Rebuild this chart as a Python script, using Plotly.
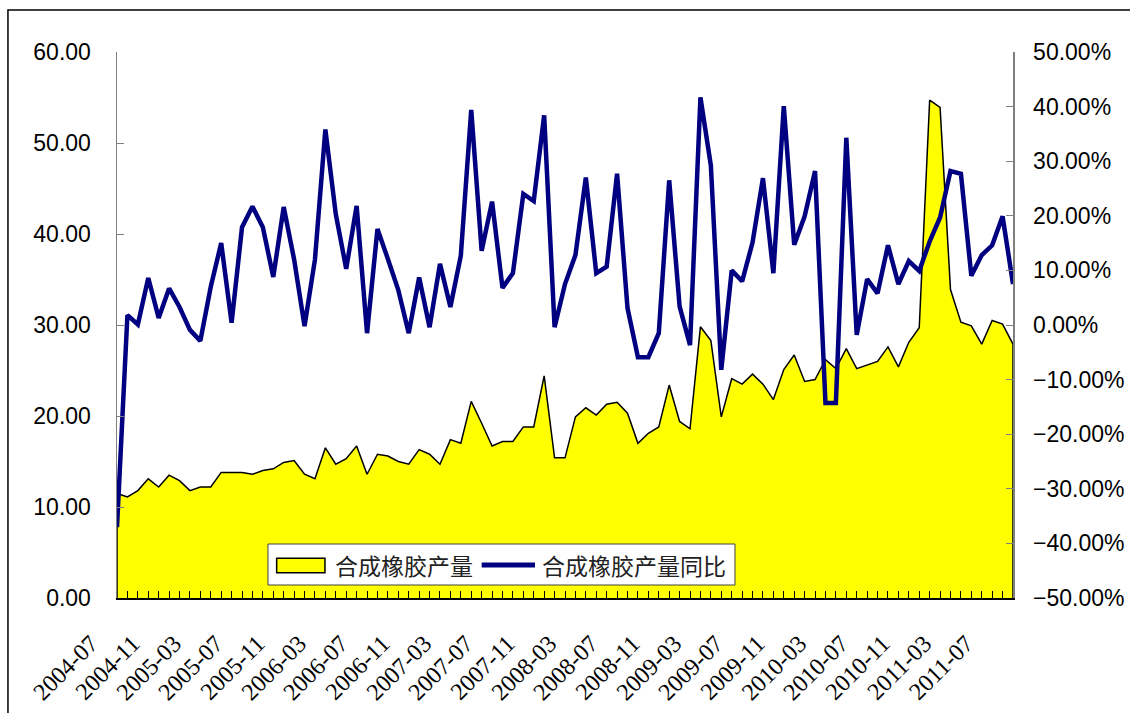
import plotly.graph_objects as go

# Monthly categories 2004-07 .. 2011-09
months = [f"{y}-{m:02d}" for y in range(2004, 2012) for m in range(1, 13)]
months = months[months.index("2004-07"):months.index("2011-09") + 1]

# 合成橡胶产量 (万吨)
production = [
    11.5, 11.1, 11.8, 13.1, 12.2, 13.5, 12.9, 11.8, 12.2, 12.2, 13.8, 13.8,
    13.8, 13.6, 14.0, 14.2, 14.9, 15.1, 13.6, 13.1, 16.5, 14.7, 15.3, 16.7,
    13.6, 15.8, 15.6, 15.0, 14.7, 16.3, 15.8, 14.7, 17.4, 17.0, 21.6, 19.2,
    16.7, 17.2, 17.2, 18.8, 18.8, 24.4, 15.4, 15.4, 19.9, 20.9, 20.1, 21.3,
    21.5, 20.3, 17.0, 18.1, 18.8, 23.4, 19.4, 18.6, 29.8, 28.3, 19.9, 24.1,
    23.5, 24.6, 23.5, 21.8, 25.1, 26.7, 23.8, 24.0, 26.2, 25.2, 27.4, 25.2,
    25.6, 26.0, 27.6, 25.4, 28.1, 29.7, 54.7, 53.9, 33.9, 30.3, 29.9, 27.9,
    30.5, 30.1, 27.9,
]

# 合成橡胶产量同比 (%)
yoy_pct = [
    -37.0, 1.8, 0.1, 8.6, 1.3, 6.7, 3.3, -0.9, -2.9, 7.0, 15.0, 0.4,
    17.9, 21.7, 17.9, 8.8, 21.6, 12.0, -0.2, 12.0, 35.8, 20.3, 10.3, 21.8,
    -1.5, 17.6, 12.1, 6.4, -1.5, 8.7, -0.4, 11.2, 3.3, 12.7, 39.4, 13.6,
    22.6, 6.8, 9.5, 24.0, 22.7, 38.4, -0.4, 7.5, 12.8, 27.0, 9.5, 10.7,
    27.7, 3.1, -5.9, -5.9, -1.5, 26.5, 3.4, -3.7, 41.7, 29.2, -8.2, 10.0,
    8.0, 15.1, 26.9, 9.5, 40.1, 14.7, 19.9, 28.2, -14.3, -14.3, 34.3, -1.8,
    8.4, 5.8, 14.6, 7.5, 11.7, 9.9, 15.3, 19.7, 28.2, 27.7, 9.0, 12.8,
    14.6, 19.9, 7.5,
]

series_names = ["合成橡胶产量", "合成橡胶产量同比"]

AREA_FILL = "#FFFF00"
LINE_COLOR = "#000080"

idx = list(range(len(months)))
label_idx = idx[::4]
label_txt = [months[i] for i in label_idx]

# closed polygon so the area has a border on all sides (like Excel)
poly_x = [idx[0]] + idx + [idx[-1]]
poly_y = [0] + production + [0]

fig = go.Figure()
fig.add_trace(go.Scatter(
    x=poly_x, y=poly_y, name=series_names[0], mode="lines",
    fill="toself", fillcolor=AREA_FILL,
    line=dict(color="black", width=1.5),
    hoverinfo="skip", showlegend=False,
))
fig.add_trace(go.Scatter(
    x=idx, y=[v / 100 for v in yoy_pct], name=series_names[1], mode="lines",
    yaxis="y2", line=dict(color=LINE_COLOR, width=4.5),
    hoverinfo="skip", showlegend=False,
))

axis_font = dict(family="Liberation Sans, Arial", size=23, color="black")
legend_font = dict(family="Noto Sans CJK SC", size=23, color="#222222")

# custom legend (Excel style) in paper coordinates
shapes = [
    dict(type="rect", xref="paper", yref="paper",
         x0=-0.1217, x1=1.3, y0=-0.4, y1=1.0769,
         line=dict(color="black", width=1.5), fillcolor="rgba(0,0,0,0)",
         layer="above"),
    dict(type="rect", xref="paper", yref="paper",
         x0=0.1685, x1=0.6897, y0=0.0238, y1=0.0989,
         line=dict(color="#404040", width=1), fillcolor="white", layer="above"),
    dict(type="rect", xref="paper", yref="paper",
         x0=0.1782, x1=0.2321, y0=0.0463, y1=0.0727,
         line=dict(color="black", width=1.5), fillcolor=AREA_FILL, layer="above"),
    dict(type="line", xref="paper", yref="paper",
         x0=0.4070, x1=0.4665, y0=0.0604, y1=0.0604,
         line=dict(color=LINE_COLOR, width=5), layer="above"),
]
annotations = [
    dict(text=series_names[0], xref="paper", yref="paper", x=0.2411, y=0.0604,
         xanchor="left", yanchor="middle", showarrow=False, font=legend_font),
    dict(text=series_names[1], xref="paper", yref="paper", x=0.4721, y=0.0604,
         xanchor="left", yanchor="middle", showarrow=False, font=legend_font),
]

fig.update_layout(
    width=1130, height=713,
    margin=dict(l=117, r=117, t=52, b=115),
    paper_bgcolor="white", plot_bgcolor="white",
    showlegend=False,
    xaxis=dict(
        range=[0, len(months) - 1],
        tickmode="array", tickvals=label_idx, ticktext=label_txt,
        tickangle=-45,
        tickfont=dict(family="Liberation Serif, Times New Roman", size=24, color="black"),
        ticks="inside", ticklen=7, tickcolor="black", tickwidth=1,
        minor=dict(ticks="inside", tickmode="linear", tick0=0, dtick=1,
                   ticklen=7, tickcolor="black", tickwidth=1),
        showline=True, linecolor="black", linewidth=2,
        showgrid=False, zeroline=False, automargin=False,
        ticklabelstandoff=20, ticklabelshift=-26,
    ),
    yaxis=dict(
        range=[0, 60], dtick=10, tickformat=".2f",
        tickfont=axis_font,
        ticks="inside", ticklen=7, tickcolor="#808080",
        showline=True, linecolor="#808080", linewidth=1.5,
        showgrid=False, zeroline=False, automargin=False,
        ticklabelstandoff=20,
    ),
    yaxis2=dict(
        range=[-0.5, 0.5], dtick=0.1, tickformat=".2%",
        overlaying="y", side="right",
        tickfont=axis_font,
        ticks="inside", ticklen=7, tickcolor="#808080",
        showline=True, linecolor="#808080", linewidth=1.5,
        showgrid=False, zeroline=False, automargin=False,
        ticklabelstandoff=14,
    ),
    shapes=shapes,
    annotations=annotations,
)

fig.write_html("out.html", config={"displayModeBar": False, "staticPlot": True})
